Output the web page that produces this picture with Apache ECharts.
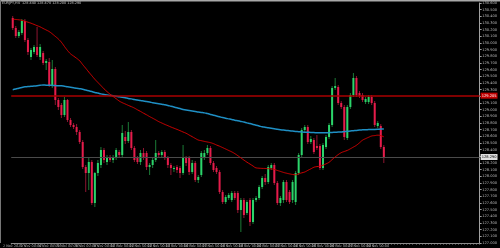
<!DOCTYPE html>
<html><head><meta charset="utf-8">
<script src="https://cdn.jsdelivr.net/npm/echarts@6/dist/echarts.min.js"></script>
<style>html,body{margin:0;padding:0;background:#000}#c{width:500px;height:248px}</style>
</head><body><div id="c"></div>
<script>
const symbolTitle = "EURJPY,H4  128.440 128.470 128.200 128.290";
const dateLabels = ["2 Nov 2020","3 Nov 00:00","4 Nov 00:00","5 Nov 00:00","6 Nov 00:00","9 Nov 00:00","10 Nov 00:00","11 Nov 00:00","12 Nov 00:00","13 Nov 00:00","16 Nov 00:00","17 Nov 00:00","18 Nov 00:00","19 Nov 00:00","20 Nov 00:00","23 Nov 00:00","24 Nov 00:00","25 Nov 00:00","26 Nov 00:00","27 Nov 00:00","30 Nov 00:00"];
const barsPerLabel = 6;
const totalSlots = 154;
const open = [130.375,130.225,130.105,130.150,130.330,130.045,129.790,129.865,129.940,129.790,
129.850,129.700,129.715,129.355,129.610,129.145,129.070,128.920,129.145,128.845,
128.770,128.740,128.665,128.515,128.140,128.050,128.215,127.600,128.050,128.170,
128.395,128.215,128.290,128.245,128.275,128.365,128.320,128.590,128.530,128.665,
128.425,128.275,128.215,128.350,128.350,128.140,128.170,128.245,128.350,128.320,
128.365,128.275,128.170,128.110,128.140,128.125,128.050,128.275,128.275,128.065,
128.200,127.945,128.020,128.275,128.350,128.425,128.200,128.125,128.065,127.765,
127.615,127.675,127.645,127.750,127.750,127.495,127.645,127.450,127.645,127.315,
127.645,127.675,127.840,127.975,127.915,128.125,128.170,127.900,127.600,127.645,
127.915,127.765,127.645,127.615,128.050,128.320,128.695,128.740,128.515,128.545,
128.455,128.455,128.125,128.440,128.590,128.770,129.325,129.340,129.100,129.040,
128.575,129.040,129.220,129.475,129.250,129.220,129.115,129.115,129.190,129.100,
128.755,128.755,128.440];
const close = [130.225,130.105,130.165,130.330,130.045,129.865,129.895,129.940,129.820,129.940,
129.700,129.730,129.370,129.610,129.145,129.040,128.920,129.145,128.845,128.770,
128.740,128.665,128.515,128.140,128.050,128.215,127.600,128.050,128.200,128.395,
128.245,128.290,128.245,128.290,128.395,128.320,128.650,128.530,128.665,128.425,
128.245,128.215,128.350,128.275,128.140,128.170,128.245,128.350,128.320,128.365,
128.275,128.170,128.125,128.125,128.095,128.050,128.275,128.200,128.065,128.200,
127.945,127.990,128.350,128.350,128.425,128.200,128.095,128.065,127.765,127.615,
127.690,127.720,127.750,127.675,127.495,127.645,127.420,127.615,127.315,127.645,
127.675,127.840,127.975,127.915,128.140,128.170,127.900,127.600,127.675,127.915,
127.645,127.615,127.915,128.050,128.320,128.695,128.740,128.515,128.560,128.365,
128.425,128.125,128.470,128.590,128.770,129.325,129.355,129.100,129.040,128.590,
129.040,129.220,129.475,129.220,129.205,129.145,129.160,129.190,129.100,128.770,
128.800,128.440,128.290];
const high = [130.405,130.255,130.195,130.360,130.360,130.075,129.925,129.970,130.240,129.985,
129.880,129.760,129.775,129.745,129.640,129.175,129.100,129.190,129.160,128.875,
128.800,128.785,128.695,128.545,128.170,128.275,128.245,128.065,128.245,128.440,
128.425,128.320,128.320,128.320,128.425,128.395,128.770,128.680,128.815,128.695,
128.455,128.305,128.395,128.425,128.380,128.200,128.290,128.545,128.380,128.395,
128.395,128.305,128.200,128.155,128.170,128.155,128.470,128.305,128.305,128.245,
128.230,128.020,128.380,128.395,128.470,128.455,128.230,128.155,128.095,127.795,
127.720,127.750,127.780,127.780,127.780,127.675,127.675,127.645,127.675,127.675,
127.705,127.870,128.005,128.035,128.170,128.200,128.200,127.930,127.705,127.945,
127.945,127.795,127.945,128.080,128.350,128.725,128.770,128.770,128.605,128.575,
128.620,128.485,128.500,128.620,128.800,129.355,129.475,129.370,129.130,129.070,
129.070,129.250,129.550,129.505,129.280,129.250,129.190,129.220,129.220,129.130,
128.830,128.785,128.470];
const low = [130.195,130.075,130.075,130.120,130.015,129.820,129.745,129.835,129.790,129.745,
129.670,129.595,129.340,129.325,129.070,128.995,128.875,128.890,128.815,128.740,
128.710,128.620,128.485,128.110,127.765,127.795,127.570,127.540,128.005,128.125,
128.200,128.170,128.215,128.200,128.245,128.275,128.290,128.485,128.500,128.395,
128.215,128.185,128.170,128.245,128.095,128.020,128.125,128.215,128.275,128.290,
128.245,128.125,128.020,128.065,128.050,127.975,128.020,128.155,128.020,128.035,
127.915,127.900,127.990,128.245,128.320,128.170,128.065,128.035,127.735,127.585,
127.585,127.645,127.615,127.645,127.450,127.165,127.375,127.420,127.255,127.285,
127.615,127.645,127.810,127.870,127.885,128.095,127.870,127.570,127.555,127.600,
127.615,127.585,127.600,127.570,128.020,128.290,128.665,128.485,128.485,128.335,
128.395,128.095,128.095,128.410,128.560,128.740,129.295,129.070,129.010,128.545,
128.545,129.010,129.190,129.190,129.175,129.115,129.085,129.085,129.070,128.740,
128.725,128.410,128.200];
const maFast = [130.357,130.353,130.348,130.341,130.327,130.312,130.297,130.279,130.260,130.242,
130.218,130.195,130.171,130.137,130.099,130.060,130.011,129.948,129.888,129.838,
129.804,129.771,129.733,129.676,129.621,129.564,129.510,129.456,129.408,129.361,
129.313,129.271,129.232,129.198,129.165,129.130,129.105,129.085,129.064,129.045,
129.024,128.998,128.974,128.947,128.923,128.896,128.872,128.847,128.821,128.800,
128.779,128.760,128.740,128.722,128.704,128.685,128.665,128.646,128.620,128.595,
128.569,128.545,128.535,128.524,128.515,128.505,128.490,128.470,128.452,128.431,
128.410,128.388,128.367,128.341,128.310,128.277,128.244,128.212,128.184,128.155,
128.127,128.122,128.119,128.118,128.115,128.112,128.103,128.088,128.074,128.059,
128.047,128.037,128.028,128.023,128.037,128.052,128.065,128.089,128.112,128.136,
128.146,128.152,128.167,128.187,128.211,128.251,128.290,128.326,128.355,128.373,
128.389,128.413,128.439,128.466,128.503,128.542,128.565,128.586,128.605,128.611,
128.617,128.611,128.592];
const maSlow = [129.300,129.310,129.322,129.333,129.342,129.346,129.351,129.355,129.360,129.366,
129.370,129.367,129.366,129.363,129.361,129.358,129.357,129.351,129.343,129.337,
129.330,129.322,129.315,129.307,129.295,129.283,129.271,129.259,129.249,129.237,
129.229,129.222,129.214,129.208,129.201,129.193,129.186,129.178,129.169,129.162,
129.153,129.145,129.136,129.129,129.121,129.114,129.105,129.097,129.090,129.082,
129.073,129.064,129.052,129.040,129.028,129.016,129.004,128.994,128.986,128.980,
128.973,128.965,128.959,128.952,128.941,128.929,128.917,128.905,128.893,128.881,
128.871,128.862,128.853,128.842,128.833,128.824,128.815,128.802,128.791,128.779,
128.767,128.755,128.743,128.736,128.728,128.721,128.715,128.707,128.700,128.694,
128.689,128.685,128.680,128.674,128.670,128.665,128.662,128.661,128.658,128.656,
128.653,128.652,128.652,128.653,128.656,128.659,128.661,128.664,128.665,128.671,
128.676,128.680,128.685,128.689,128.695,128.697,128.698,128.701,128.703,128.704,
128.706,128.709,128.710];
const levelLine = 129.205;
const bidLine = 128.290;
const yMin = 127.0, yMax = 130.6, yStep = 0.1;

const categories = [];
for (let i = 0; i < totalSlots; i++) {
  const k = i / barsPerLabel;
  categories.push(i % barsPerLabel === 0 && k < dateLabels.length && i < open.length ? dateLabels[k] : '');
}
const candleData = open.map((o, i) => [i, o, close[i], low[i], high[i]]);

const bodyUp = '#2bd46a', bodyDn = '#e51c4b', wickUp = '#1b7a36', wickDn = '#8e1530';

function renderItem(params, api) {
  const i = api.value(0), o = api.value(1), c = api.value(2), l = api.value(3), h = api.value(4);
  const pO = api.coord([i, o]), pC = api.coord([i, c]), pH = api.coord([i, h]), pL = api.coord([i, l]);
  const w = api.size([1, 0])[0] * 0.66;
  const up = c >= o;
  const top = Math.min(pO[1], pC[1]);
  const hgt = Math.max(Math.abs(pO[1] - pC[1]), 1);
  return { type: 'group', children: [
    { type: 'line', shape: { x1: pH[0], y1: pH[1], x2: pL[0], y2: pL[1] }, style: { stroke: up ? wickUp : wickDn, lineWidth: 1 } },
    { type: 'rect', shape: { x: pO[0] - w / 2, y: top, width: w, height: hgt }, style: { fill: up ? bodyUp : bodyDn } }
  ]};
}

const chart = echarts.init(document.getElementById('c'), null, { renderer: 'canvas' });
chart.setOption({
  animation: false,
  backgroundColor: '#000',
  grid: { left: 0, right: 17, top: 3, bottom: 5 },
  xAxis: {
    type: 'category', data: categories, boundaryGap: true,
    axisLine: { show: true, lineStyle: { color: '#8a8a8a', width: 1 } },
    axisTick: { show: true, interval: 0, length: 1.5, lineStyle: { color: '#8a8a8a' } },
    axisLabel: { show: true, interval: 0, fontSize: 3.4, color: '#b0b0b0', margin: 1.5, fontFamily: 'DejaVu Sans' },
    splitLine: { show: false }
  },
  yAxis: {
    type: 'value', position: 'right', min: yMin, max: yMax, interval: yStep,
    axisLine: { show: true, lineStyle: { color: '#a0a0a0', width: 1 } },
    axisTick: { show: true, length: 2, lineStyle: { color: '#a0a0a0' } },
    axisLabel: { show: true, fontSize: 3.6, color: '#b8b8b8', margin: 2.5, fontFamily: 'DejaVu Sans', formatter: v => v.toFixed(3) },
    splitLine: { show: false }
  },
  series: [
    { type: 'custom', renderItem: renderItem, data: candleData, encode: { x: 0, y: [1, 2, 3, 4] }, clip: true, z: 3 },
    { type: 'line', data: maSlow, showSymbol: false, symbol: 'none', smooth: true, lineStyle: { color: '#1f8fc4', width: 1.5 }, z: 4,
      markLine: { silent: true, symbol: 'none', animation: false,
        data: [
          { yAxis: levelLine, lineStyle: { color: '#a80000', width: 1.5, type: 'solid' },
            label: { show: true, position: 'end', distance: 1, formatter: levelLine.toFixed(3), backgroundColor: '#c00000', color: '#fff', fontSize: 3.6, padding: [1, 1], fontFamily: 'DejaVu Sans' } },
          { yAxis: bidLine, lineStyle: { color: '#4a4a4a', width: 1, type: 'solid' },
            label: { show: true, position: 'end', distance: 1, formatter: bidLine.toFixed(3), backgroundColor: '#e0e0e0', color: '#000', fontSize: 3.6, padding: [1, 1], fontFamily: 'DejaVu Sans' } }
        ] } },
    { type: 'line', data: maFast, showSymbol: false, symbol: 'none', smooth: true, lineStyle: { color: '#d40000', width: 1 }, z: 5 }
  ],
  graphic: [
    { type: 'rect', left: 0, top: 0, shape: { width: 500, height: 1.5 }, style: { fill: '#a8a8a8' }, z: 10 },
    { type: 'line', shape: { x1: 0.5, y1: 0, x2: 0.5, y2: 243 }, style: { stroke: '#777', lineWidth: 1 }, z: 10 },
    { type: 'text', left: 2, top: 1.5, style: { text: symbolTitle, fill: '#c8c8c8', fontSize: 3.4, fontFamily: 'DejaVu Sans' }, z: 10 }
  ]
});
</script></body></html>
